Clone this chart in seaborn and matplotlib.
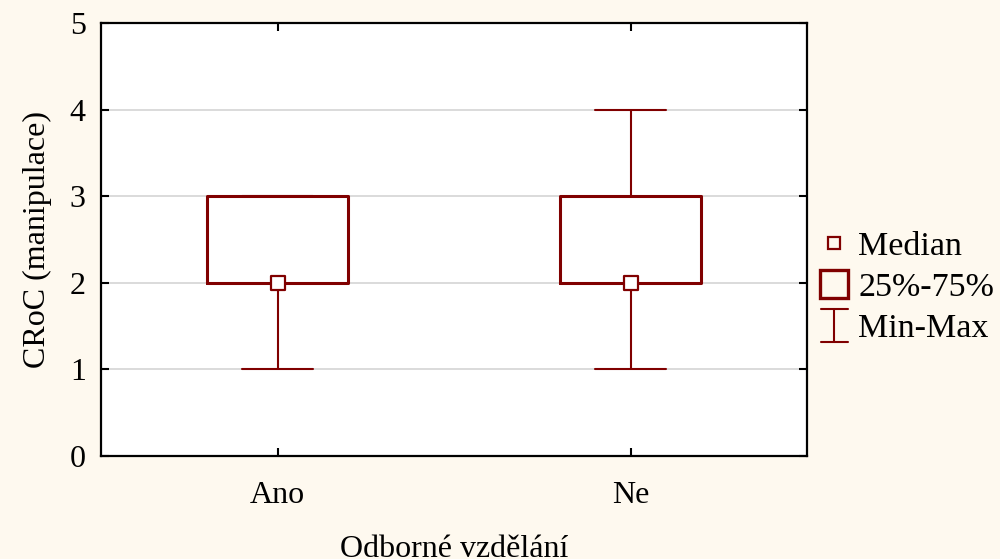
import matplotlib
matplotlib.use("Agg")
import matplotlib.pyplot as plt
from matplotlib.lines import Line2D
from matplotlib.legend_handler import HandlerBase
import numpy as np
import pandas as pd
import seaborn as sns

# Five-number summary per group
groups = ["Ano", "Ne"]
minimum = [1, 1]
q1 = [2, 2]
median = [2, 2]
q3 = [3, 3]
maximum = [3, 4]

x_label = "Odborné vzdělání"
y_label = "CRoC (manipulace)"
y_ticks = [0, 1, 2, 3, 4, 5]

RED = "#800000"
BG = "#FEF9EF"
FS = 23
LEG_FS = 24.5

# With five values, the linear quartiles are exactly q1/median/q3
rows = []
for g, a, b, c, d, e in zip(groups, minimum, q1, median, q3, maximum):
    for v in (a, b, c, d, e):
        rows.append({"group": g, "value": v})
df = pd.DataFrame(rows)
med_df = pd.DataFrame({"group": groups, "value": median})

sns.set_theme(style="white")
plt.rcParams["font.family"] = ["Liberation Serif", "DejaVu Serif"]
plt.rcParams["text.color"] = "black"
plt.rcParams["axes.labelcolor"] = "black"
plt.rcParams["xtick.color"] = "black"
plt.rcParams["ytick.color"] = "black"

fig = plt.figure(figsize=(10, 5.59), dpi=100, facecolor=BG)
ax = fig.add_axes([0.101, 0.1843, 0.706, 0.7746])
ax.set_facecolor("white")

ax.yaxis.grid(True, color="#D8D8D8", linewidth=1.3, zorder=0)
ax.set_axisbelow(True)

sns.boxplot(
    data=df, x="group", y="value", order=groups, ax=ax,
    whis=(0, 100), width=0.4, fill=False, color=RED, linecolor=RED,
    linewidth=2.2,
    whiskerprops={"linewidth": 1.5},
    capprops={"linewidth": 1.5},
    medianprops={"linewidth": 0, "alpha": 0},
    showfliers=False,
)
sns.stripplot(
    data=med_df, x="group", y="value", order=groups, ax=ax,
    jitter=False, marker="s", size=10, color="white",
    edgecolor=RED, linewidth=1.6, zorder=5,
)

ax.set_xlim(-0.5, 1.5)
ax.set_ylim(0, 5)
ax.set_yticks(y_ticks)
ax.set_xlabel(x_label, fontsize=FS, labelpad=18, color="black")
ax.set_ylabel(y_label, fontsize=FS, labelpad=13, color="black")
ax.tick_params(axis="both", which="major", direction="in", length=6,
               width=1.5, color="black", labelcolor="black", labelsize=FS,
               top=True, right=True, bottom=True, left=True)
ax.tick_params(axis="y", pad=11)
ax.tick_params(axis="x", pad=18)
for s in ax.spines.values():
    s.set_visible(True)
    s.set_color("black")
    s.set_linewidth(1.6)


class MinMaxHandler(HandlerBase):
    def create_artists(self, legend, orig_handle, xdescent, ydescent,
                       width, height, fontsize, trans):
        cx = width / 2 - xdescent
        cy = height / 2 - ydescent
        h = fontsize * 0.95
        w = fontsize * 0.8
        lines = [
            Line2D([cx, cx], [cy - h / 2, cy + h / 2]),
            Line2D([cx - w / 2, cx + w / 2], [cy + h / 2, cy + h / 2]),
            Line2D([cx - w / 2, cx + w / 2], [cy - h / 2, cy - h / 2]),
        ]
        for ln in lines:
            ln.set_color(RED)
            ln.set_linewidth(1.5)
            ln.set_transform(trans)
        return lines


h_med = Line2D([], [], marker="s", linestyle="none", markersize=9,
               markerfacecolor="none", markeredgecolor=RED,
               markeredgewidth=1.6)
h_box = Line2D([], [], marker="s", linestyle="none", markersize=20,
               markerfacecolor="none", markeredgecolor=RED,
               markeredgewidth=2.4)
h_mm = object()

leg = fig.legend(
    [h_med, h_box, h_mm], ["Median", "25%-75%", "Min-Max"],
    handler_map={h_mm: MinMaxHandler()},
    loc="center left", bbox_to_anchor=(0.82, 0.485),
    frameon=False, fontsize=LEG_FS, handlelength=0.85, handletextpad=0.28,
    labelspacing=0.3, borderpad=0, borderaxespad=0,
)
for t in leg.get_texts():
    t.set_color("black")

fig.savefig("out.png", dpi=100, facecolor=BG)
